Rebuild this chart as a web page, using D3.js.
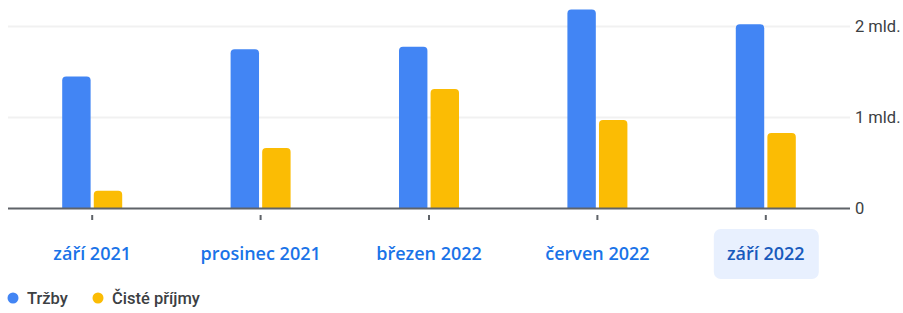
<!DOCTYPE html>
<html>
<head>
  <meta charset="utf-8">
  <title>Tržby a čisté příjmy</title>
  <script src="https://cdn.jsdelivr.net/npm/d3@7"></script>
  <style>
    body { margin: 0; background: #fff; }
    svg { display: block; font-family: Roboto, "Noto Sans", sans-serif; }
  </style>
</head>
<body>
  <svg id="chart" width="903" height="313"></svg>
  <script>
    // quarters and values (in billions)
    var categories = ["září 2021", "prosinec 2021", "březen 2022", "červen 2022", "září 2022"];
    var trzby = [1.445, 1.744, 1.773, 2.18, 2.02];
    var cistePrijmy = [0.19, 0.66, 1.308, 0.967, 0.824];
    var seriesNames = ["Tržby", "Čisté příjmy"];
    var seriesColors = ["#4285f4", "#fbbc04"];
    var yTicks = [0, 1, 2];
    var yTickLabels = ["0", "1 mld.", "2 mld."];
    var selected = "září 2022";

    var svg = d3.select("#chart");
    var left = 8, right = 850, base = 208;

    var x = d3.scaleBand().domain(categories).range([left, right]);
    var y = d3.scaleLinear().domain([0, 2]).range([base, 26]);
    var x1 = d3.scaleBand().domain(seriesNames).range([-30, 30]).paddingInner(0.1);

    // gridlines
    svg.append("g").selectAll("line").data(yTicks.slice(1)).enter().append("line")
      .attr("x1", left).attr("x2", right)
      .attr("y1", function(d) { return Math.round(y(d)) + 0.5; })
      .attr("y2", function(d) { return Math.round(y(d)) + 0.5; })
      .attr("stroke", "#f1f1f1").attr("stroke-width", 2);

    // y labels
    svg.append("g").selectAll("text").data(yTicks).enter().append("text")
      .attr("x", 855).attr("y", function(d) { return y(d); })
      .attr("dy", "0.35em")
      .attr("font-size", 16.5).attr("fill", "#3c4043")
      .text(function(d, i) { return yTickLabels[i]; });

    // bars
    var rows = categories.map(function(c, i) {
      return { cat: c, vals: [trzby[i], cistePrijmy[i]] };
    });
    var groups = svg.append("g").selectAll("g").data(rows).enter().append("g")
      .attr("transform", function(d) { return "translate(" + (x(d.cat) + x.bandwidth() / 2) + ",0)"; });
    groups.selectAll("path").data(function(d) { return d.vals.map(function(v, j) { return { v: v, j: j }; }); })
      .enter().append("path")
      .attr("fill", function(d) { return seriesColors[d.j]; })
      .attr("d", function(d) {
        var x0 = x1(seriesNames[d.j]), w = x1.bandwidth(), t = y(d.v), r = 4;
        return "M" + x0 + "," + base + "V" + (t + r) + "Q" + x0 + "," + t + " " + (x0 + r) + "," + t +
          "H" + (x0 + w - r) + "Q" + (x0 + w) + "," + t + " " + (x0 + w) + "," + (t + r) + "V" + base + "Z";
      });

    // baseline
    svg.append("line").attr("x1", left).attr("x2", right)
      .attr("y1", base + 0.5).attr("y2", base + 0.5)
      .attr("stroke", "#5f6368").attr("stroke-width", 2);

    // ticks
    svg.append("g").selectAll("rect").data(categories).enter().append("rect")
      .attr("x", function(d) { return x(d) + x.bandwidth() / 2 - 1; })
      .attr("y", 215).attr("width", 2).attr("height", 5)
      .attr("fill", "#5f6368");

    // selected highlight
    svg.append("rect")
      .attr("x", x(selected) + x.bandwidth() / 2 - 52).attr("y", 229)
      .attr("width", 105).attr("height", 50).attr("rx", 7)
      .attr("fill", "#e8f0fe");

    // category labels
    svg.append("g").selectAll("text").data(categories).enter().append("text")
      .attr("x", function(d) { return x(d) + x.bandwidth() / 2; })
      .attr("y", 254).attr("dy", "0.35em")
      .attr("text-anchor", "middle")
      .attr("font-family", "'Open Sans', Roboto, sans-serif")
      .attr("font-size", 18).attr("font-weight", 600)
      .attr("fill", function(d) { return d === selected ? "#185abc" : "#1a73e8"; })
      .text(function(d) { return d; });

    // legend
    var legend = svg.append("g").attr("transform", "translate(0,298)");
    var lx = [13, 98];
    seriesNames.forEach(function(n, i) {
      legend.append("circle").attr("cx", lx[i]).attr("cy", 0).attr("r", 5.5).attr("fill", seriesColors[i]);
      legend.append("text").attr("x", lx[i] + 14).attr("y", 0).attr("dy", "0.35em")
        .attr("font-size", 16.5).attr("font-weight", 500).attr("fill", "#3c4043").text(n);
    });
  </script>
</body>
</html>
